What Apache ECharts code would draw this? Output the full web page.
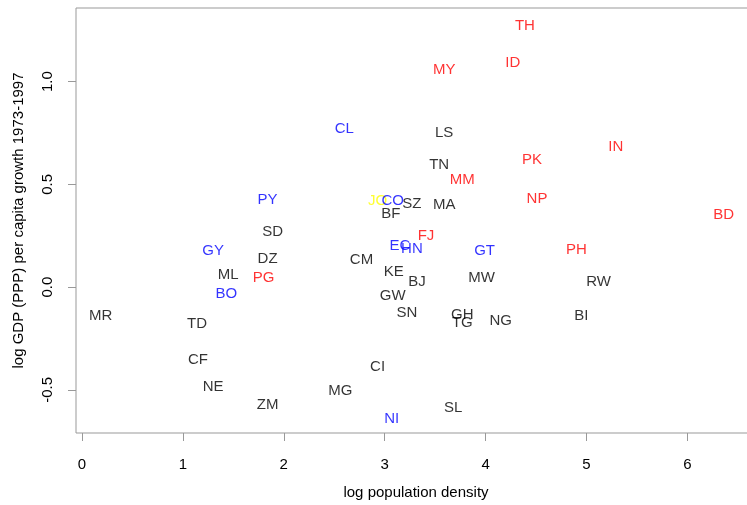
<!DOCTYPE html>
<html>
<head>
<meta charset="utf-8">
<script src="https://cdn.jsdelivr.net/npm/echarts@6/dist/echarts.min.js"></script>
<style>
html,body{margin:0;padding:0;background:#fff;}
#chart{width:747px;height:505px;}
</style>
</head>
<body>
<div id="chart"></div>
<script>
var countries = ["TH","ID","MY","CL","LS","IN","PK","TN","MM","NP","BD","PY","JO","CO","SZ","MA","BF","SD","FJ","EC","HN","GT","GY","PH","DZ","CM","ML","PG","KE","MW","RW","BJ","BO","GW","MR","SN","GH","TG","NG","BI","TD","CF","CI","NE","MG","ZM","SL","NI"];
var logDensity = [4.39,4.27,3.59,2.60,3.59,5.29,4.46,3.54,3.77,4.51,6.36,1.84,2.93,3.08,3.27,3.59,3.06,1.89,3.41,3.15,3.27,3.99,1.30,4.90,1.84,2.77,1.45,1.80,3.09,3.96,5.12,3.32,1.43,3.08,0.185,3.22,3.77,3.77,4.15,4.95,1.14,1.15,2.93,1.30,2.56,1.84,3.68,3.07];
var growth = [1.275,1.095,1.061,0.774,0.754,0.686,0.623,0.599,0.526,0.433,0.355,0.428,0.423,0.423,0.409,0.404,0.360,0.272,0.253,0.204,0.190,0.180,0.180,0.185,0.141,0.136,0.063,0.049,0.078,0.049,0.029,0.029,-0.029,-0.039,-0.136,-0.122,-0.131,-0.170,-0.161,-0.136,-0.175,-0.350,-0.384,-0.482,-0.501,-0.569,-0.584,-0.637];
var groupColor = ["red","red","red","blue","black","red","red","black","red","red","red","blue","yellow","blue","black","black","black","black","red","blue","blue","blue","blue","red","black","black","black","red","black","black","black","black","blue","black","black","black","black","black","black","black","black","black","black","black","black","black","black","blue"];
var xTicks = [0,1,2,3,4,5,6];
var yTicks = [-0.5,0,0.5,1.0];

var colorMap = {red:"#FF0000", blue:"#0000FF", yellow:"#FFFF00", black:"#000000"};
var data = countries.map(function(c,i){
  return {name:c, value:[logDensity[i], growth[i]], label:{color:colorMap[groupColor[i]]}};
});

var font = "Liberation Sans, Arial, sans-serif";
var chart = echarts.init(document.getElementById('chart'));
chart.setOption({
  animation:false,
  backgroundColor:'#fff',
  grid:{left:76, top:8, width:680, bottom:72, outerBoundsMode:'none', containLabel:false, show:true, borderColor:'#999', borderWidth:1, backgroundColor:'transparent'},
  xAxis:{
    type:'value', min:-0.059, max:6.68,
    name:'log population density', nameLocation:'middle', nameGap:52,
    nameTextStyle:{fontFamily:font, fontSize:15, color:'#000'},
    axisLine:{show:false, onZero:false},
    splitLine:{show:false},
    axisTick:{show:true, inside:false, length:8, lineStyle:{color:'#999'}, customValues:xTicks},
    axisLabel:{show:true, margin:24, fontFamily:font, fontSize:15, color:'#000', customValues:xTicks, formatter:function(v){return String(v);}}
  },
  yAxis:{
    type:'value', min:-0.71, max:1.358,
    name:'log GDP (PPP) per capita growth 1973-1997', nameLocation:'middle', nameGap:50,
    nameTextStyle:{fontFamily:font, fontSize:15, color:'#000'},
    axisLine:{show:false, onZero:false},
    splitLine:{show:false},
    axisTick:{show:true, inside:false, length:8, lineStyle:{color:'#999'}, customValues:yTicks},
    axisLabel:{show:true, rotate:90, margin:21, fontFamily:font, fontSize:15, color:'#000', customValues:yTicks, formatter:function(v){return v.toFixed(1);}}
  },
  series:[{
    type:'scatter',
    symbolSize:1,
    itemStyle:{color:'rgba(0,0,0,0)'},
    label:{show:true, position:'inside', offset:[0,1], formatter:'{b}', fontFamily:font, fontSize:15},
    emphasis:{disabled:true},
    data:data
  }]
});
</script>
</body>
</html>
